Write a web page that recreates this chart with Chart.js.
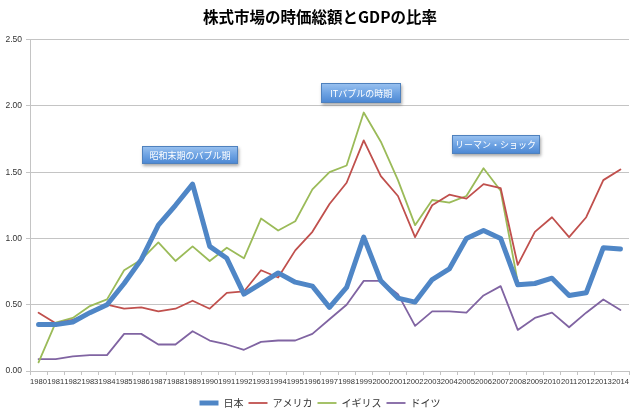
<!DOCTYPE html>
<html>
<head>
<meta charset="utf-8">
<script src="https://cdn.jsdelivr.net/npm/chart.js@4"></script>
<style>
  html, body { margin: 0; padding: 0; background: #fff; }
  #wrap { width: 640px; height: 419px; }
</style>
</head>
<body>
<div id="wrap"><canvas id="lineChart"></canvas></div>
<script>
'use strict'

// data
var years = ['1980','1981','1982','1983','1984','1985','1986','1987','1988','1989',
  '1990','1991','1992','1993','1994','1995','1996','1997','1998','1999',
  '2000','2001','2002','2003','2004','2005','2006','2007','2008','2009',
  '2010','2011','2012','2013','2014'];

var japan = [0.35, 0.35, 0.37, 0.44, 0.50, 0.66, 0.84, 1.10, 1.25, 1.41,
  0.94, 0.85, 0.58, 0.66, 0.74, 0.67, 0.64, 0.48, 0.63, 1.01,
  0.68, 0.55, 0.52, 0.69, 0.77, 1.00, 1.06, 1.00, 0.65, 0.66,
  0.70, 0.57, 0.59, 0.93, 0.92];

var america = [0.44, 0.36, 0.385, 0.44, 0.50, 0.47, 0.48, 0.45, 0.47, 0.53,
  0.47, 0.59, 0.60, 0.76, 0.705, 0.91, 1.05, 1.26, 1.42, 1.74,
  1.47, 1.32, 1.01, 1.25, 1.33, 1.30, 1.41, 1.38, 0.80, 1.05,
  1.16, 1.01, 1.16, 1.44, 1.52];

var britain = [0.065, 0.365, 0.40, 0.49, 0.54, 0.76, 0.84, 0.97, 0.83, 0.94,
  0.83, 0.93, 0.85, 1.15, 1.06, 1.13, 1.37, 1.50, 1.55, 1.95,
  1.73, 1.44, 1.10, 1.29, 1.27, 1.32, 1.53, 1.36, 0.67, null,
  null, null, null, null, null];

var germany = [0.09, 0.09, 0.11, 0.12, 0.12, 0.28, 0.28, 0.20, 0.20, 0.30,
  0.23, 0.20, 0.16, 0.22, 0.23, 0.23, 0.28, 0.39, 0.50, 0.68,
  0.68, 0.58, 0.34, 0.45, 0.45, 0.44, 0.57, 0.64, 0.31, 0.40,
  0.44, 0.33, 0.44, 0.54, 0.46];

var seriesNames = ['日本', 'アメリカ', 'イギリス', 'ドイツ'];
var seriesColors = ['#4f86c6', '#c0504d', '#9bbb59', '#8064a2'];

// callouts: [text, year index (centre), value (centre), width, height]
var callouts = [
  ['昭和末期のバブル期', 8.85, 1.63, 96, 18],
  ['ITバブルの時期', 18.85, 2.10, 80, 20],
  ['リーマン・ショック', 26.7, 1.71, 88, 19]
];

var gridColor = '#c4c4c4';

var calloutPlugin = {
  id: 'callouts',
  afterDatasetsDraw: function (chart) {
    var ctx = chart.ctx;
    var xs = chart.scales.x, ys = chart.scales.y;
    callouts.forEach(function (c) {
      var cx = xs.getPixelForValue(c[1]);
      var cy = ys.getPixelForValue(c[2]);
      var w = c[3], h = c[4];
      var x = Math.round(cx - w / 2), y = Math.round(cy - h / 2);
      ctx.save();
      ctx.shadowColor = 'rgba(0,0,0,0.35)';
      ctx.shadowBlur = 3;
      ctx.shadowOffsetX = 1;
      ctx.shadowOffsetY = 2;
      var g = ctx.createLinearGradient(0, y, 0, y + h);
      g.addColorStop(0, '#9cc3f0');
      g.addColorStop(0.5, '#6ea3e3');
      g.addColorStop(1, '#4a86d2');
      ctx.fillStyle = g;
      ctx.fillRect(x, y, w, h);
      ctx.shadowColor = 'transparent';
      ctx.strokeStyle = '#4f81bd';
      ctx.lineWidth = 1;
      ctx.strokeRect(x + 0.5, y + 0.5, w - 1, h - 1);
      ctx.fillStyle = '#ffffff';
      ctx.font = '9px "Noto Sans CJK JP", sans-serif';
      ctx.textAlign = 'center';
      ctx.textBaseline = 'middle';
      ctx.fillText(c[0], cx, cy + 0.5);
      ctx.restore();
    });
  }
};

const ctx = document.getElementById('lineChart').getContext('2d');
const lineChart = new Chart(ctx, {
  type: 'line',
  data: {
    labels: years,
    datasets: [
      { label: seriesNames[0], data: japan, borderColor: seriesColors[0], backgroundColor: seriesColors[0], borderWidth: 5 },
      { label: seriesNames[1], data: america, borderColor: seriesColors[1], backgroundColor: seriesColors[1], borderWidth: 1.8 },
      { label: seriesNames[2], data: britain, borderColor: seriesColors[2], backgroundColor: seriesColors[2], borderWidth: 1.8 },
      { label: seriesNames[3], data: germany, borderColor: seriesColors[3], backgroundColor: seriesColors[3], borderWidth: 1.8 }
    ]
  },
  options: {
    responsive: true,
    maintainAspectRatio: false,
    animation: false,
    devicePixelRatio: 1,
    elements: {
      point: { radius: 0, hoverRadius: 0 },
      line: { tension: 0, borderJoinStyle: 'round', borderCapStyle: 'round' }
    },
    layout: { padding: { left: 0, right: 0, top: 0, bottom: 1 } },
    plugins: {
      title: {
        display: true,
        text: '株式市場の時価総額とGDPの比率',
        color: '#000',
        font: { family: '"Noto Sans CJK JP", sans-serif', size: 15.5, weight: 'bold' },
        padding: { top: 8, bottom: 13 }
      },
      legend: {
        position: 'bottom',
        labels: {
          usePointStyle: true,
          pointStyle: 'line',
          pointStyleWidth: 19,
          padding: 5,
          color: '#333',
          font: { family: '"Noto Sans CJK JP", sans-serif', size: 10 }
        }
      },
      tooltip: { enabled: false }
    },
    scales: {
      x: {
        offset: true,
        grid: { display: true, drawOnChartArea: false, drawTicks: true, tickLength: 4, color: gridColor, offset: true },
        border: { color: gridColor },
        ticks: {
          autoSkip: false, maxRotation: 0, minRotation: 0, padding: 2,
          color: '#333',
          font: { family: '"Liberation Sans", sans-serif', size: 7.6 }
        },
        afterFit: function (scale) { scale.height = 22; }
      },
      y: {
        min: 0, max: 2.5,
        grid: { color: gridColor, tickLength: 4 },
        border: { color: gridColor },
        ticks: {
          stepSize: 0.5, padding: 4, color: '#333',
          font: { family: '"Liberation Sans", sans-serif', size: 8.5 },
          callback: function (v) { return v.toFixed(2); }
        },
        afterFit: function (scale) { scale.width = 30; }
      },
      // empty spacer on the right, keeps the title centred on the canvas
      spacer: {
        type: 'linear',
        position: 'right',
        display: true,
        grid: { display: false },
        border: { display: false },
        ticks: { display: false },
        afterFit: function (scale) { scale.width = 11; }
      }
    }
  },
  plugins: [calloutPlugin]
});
</script>
</body>
</html>
